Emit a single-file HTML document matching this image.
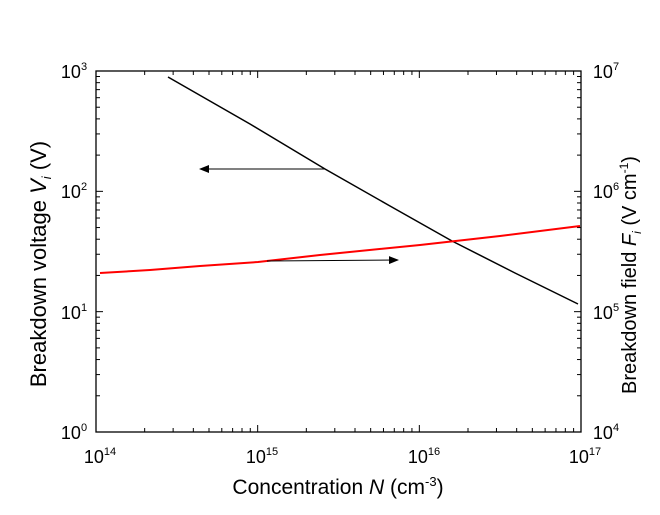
<!DOCTYPE html>
<html><head><style>
body{margin:0;background:#fff}
svg text{font-family:"Liberation Sans",Arial,sans-serif;fill:#000}
</style></head><body>
<svg width="660" height="510" viewBox="0 0 660 510" xmlns="http://www.w3.org/2000/svg">
<defs><marker id="ah" markerWidth="10" markerHeight="8" refX="9" refY="4" orient="auto" markerUnits="userSpaceOnUse"><path d="M0,0 L10,4 L0,8 z" fill="#000"/></marker></defs>
<rect x="96" y="71" width="485" height="361" fill="none" stroke="#000" stroke-width="1.3"/>
<g id="ticks" stroke="#000" stroke-width="1"></g>
<polyline points="168,77 250,124 325,169 390,206 452,241 515,273 578,304" fill="none" stroke="#000" stroke-width="1.5"/>
<polyline points="100,273 150,270 200,266 258,262 320,255 420,245 500,236 580,226" fill="none" stroke="#f00" stroke-width="2"/>
<line x1="325" y1="169" x2="200" y2="169" stroke="#000" stroke-width="1" marker-end="url(#ah)"/>
<line x1="267" y1="261" x2="398" y2="260" stroke="#000" stroke-width="1" marker-end="url(#ah)"/>
<g font-size="18">
<text x="74" y="78" text-anchor="middle">10<tspan font-size="11" dy="-8">3</tspan></text>
<text x="74" y="198" text-anchor="middle">10<tspan font-size="11" dy="-8">2</tspan></text>
<text x="74" y="319" text-anchor="middle">10<tspan font-size="11" dy="-8">1</tspan></text>
<text x="74" y="439" text-anchor="middle">10<tspan font-size="11" dy="-8">0</tspan></text>
<text x="606" y="78" text-anchor="middle">10<tspan font-size="11" dy="-8">7</tspan></text>
<text x="606" y="198" text-anchor="middle">10<tspan font-size="11" dy="-8">6</tspan></text>
<text x="606" y="319" text-anchor="middle">10<tspan font-size="11" dy="-8">5</tspan></text>
<text x="606" y="439" text-anchor="middle">10<tspan font-size="11" dy="-8">4</tspan></text>
<text x="100" y="463" text-anchor="middle">10<tspan font-size="11" dy="-8">14</tspan></text>
<text x="262" y="463" text-anchor="middle">10<tspan font-size="11" dy="-8">15</tspan></text>
<text x="424" y="463" text-anchor="middle">10<tspan font-size="11" dy="-8">16</tspan></text>
<text x="585" y="463" text-anchor="middle">10<tspan font-size="11" dy="-8">17</tspan></text>
</g>
<text x="338" y="494" font-size="21" text-anchor="middle">Concentration <tspan font-style="italic">N</tspan> (cm<tspan font-size="13" dy="-8">-3</tspan><tspan dy="8">)</tspan></text>
<text transform="translate(46,264) rotate(-90)" font-size="22" text-anchor="middle">Breakdown voltage <tspan font-style="italic">V</tspan><tspan font-size="13" dy="5" font-style="italic">i</tspan><tspan dy="-5"> (V)</tspan></text>
<text transform="translate(636,275) rotate(-90)" font-size="20" text-anchor="middle">Breakdown field <tspan font-style="italic">F</tspan><tspan font-size="12" dy="5" font-style="italic">i</tspan><tspan dy="-5"> (V cm</tspan><tspan font-size="12" dy="-8">-1</tspan><tspan dy="8">)</tspan></text>
</svg>
<script>
var g=document.getElementById('ticks'),s='';
var L=96,R=581,T=71,B=432,dx=(R-L)/3,dy=(B-T)/3;
function ln(a,b,c,d){s+='<line x1="'+a+'" y1="'+b+'" x2="'+c+'" y2="'+d+'"/>';}
for(var d=0;d<3;d++)for(var k=1;k<10;k++){
 var f=Math.log10(k),len=k==1?7:4;
 var x=L+(d+f)*dx; ln(x,B,x,B-len); ln(x,T,x,T+len);
 var y=B-(d+f)*dy; ln(L,y,L+len,y); ln(R,y,R-len,y);
}
g.innerHTML=s;
</script>
</body></html>
